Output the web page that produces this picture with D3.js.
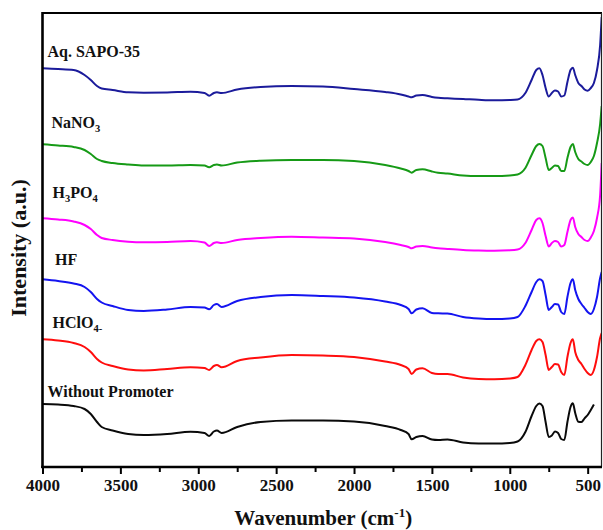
<!DOCTYPE html>
<html>
<head>
<meta charset="utf-8">
<script src="https://cdn.jsdelivr.net/npm/d3@7"></script>
<style>
  html, body { margin: 0; padding: 0; background: #fff; }
  svg text { font-family: "Liberation Serif", "Times New Roman", serif; font-weight: bold; fill: #111; }
</style>
</head>
<body>
<svg id="chart" width="603" height="530"></svg>
<script>
// ---- Data (intensity in arbitrary units) ----
const wavenumbers = [4000,3900,3800,3730,3690,3650,3620,3550,3450,3350,3200,3050,2960,2930,2900,2880,2850,2750,2600,2400,2200,2000,1800,1700,1650,1630,1600,1560,1500,1460,1400,1300,1200,1100,1000,950,900,860,830,810,790,770,750,730,710,690,670,650,630,610,595,580,560,540,520,500,480,460,440,420,410];

const aqSAPO = [398.7,398,397,392,387,381,378.5,377,374.7,374.3,374.5,375.3,374,371.3,374,374.7,374,377.5,380,381,380.5,378,375,372.5,370.5,369.7,371.5,372,370,369.2,368.7,368,367.2,366.7,367,367.5,374,387,397,398.7,392,379,370.5,374,376.5,375.5,370.5,371.5,385,397,399.3,392,384,381,377.5,376.3,379,384,397,422,450];

const naNO3 = [322.7,321.5,320,317,313,308,306,304,302.5,301.5,301.5,302,301.5,299.7,302,302.5,301.5,304.5,306.3,307,307,306,302,298.5,296,294.3,297,297.7,295.5,294.3,293.5,291.5,291,291,291.5,292.5,299,312,321,323,321,309,297,299,301.5,301,296,296,309,320,323,315,308,305.5,303,302,305,311,324,343,361];

const h3PO4 = [248.7,247.5,245.5,242,238,232,229,227,225.3,224.7,225,226,224.5,221,224,224.7,224,227,229,230.3,229.5,228.5,225,222,220,218.7,220.5,221,219.5,218.7,218,217,216.5,216.3,216.7,217.5,224,237,247,248.7,244,231,220.5,224,226,225,220.5,222,235,247,249.5,240,233,230,227,226,229.5,236,249,272,304];

const hF = [187.7,186,183.5,180,175,168,164.5,161,157,156,157.5,160,159.5,157.7,162,163,160,166,170,172,171,169.5,165.5,162,158,153.7,157.5,158.7,154,153.7,153.5,150,148.5,148,148.5,150,161,175,185,187.7,186,172,157,160,163,162.5,155,153,170,184,187.7,177,168,163,159,155,153,158,170,189,195];

const hClO4 = [127.7,126.5,124,120,115,108,104.5,101,97.5,96.5,98,99.7,99,97,101,102,99.7,106,109.5,112,111.5,110,105.5,102,98,93,97.5,98.7,94,93,93,89.5,88,87.7,88.5,90,102,117,126,127.7,125,112,97,100,103,102.5,95,92,110,124,127.7,115,107,103,98,94,92,97,110,129,134];

const withoutPromoter = [63,62.5,61,58,53,45,40,36.5,33,32,33,35.3,34,31,35.5,36.5,34,40,45,46.5,46.5,45.5,41,37,33,27.7,30,31,27.5,27,27.5,24.5,23.5,23.5,24,25.5,35,51,61,63.5,61,45,30,31.5,35.5,34,28,27,45,60,63.7,54,45.3,45,48.7,52,57,62.5,null,null,null];

const seriesNames = ["Aq. SAPO-35","NaNO3","H3PO4","HF","HClO4-","Without Promoter"];
const seriesValues = [aqSAPO, naNO3, h3PO4, hF, hClO4, withoutPromoter];
const seriesColors = ["#1b1b9b","#169a16","#ff00ff","#1414f0","#ff0d0d","#0a0a0a"];

const majorTicks = [4000,3500,3000,2500,2000,1500,1000,500];
const minorTicks = [3750,3250,2750,2250,1750,1250,750];
const xDomain = [4000, 408];
const yDomain = [0, 454];

// ---- Layout ----
const svg = d3.select("#chart");
const L = 42.5, R = 602, T = 13, B = 467;

const x = d3.scaleLinear().domain(xDomain).range([L, R]);
const y = d3.scaleLinear().domain(yDomain).range([B, T]);

// Curves
const line = d3.line()
  .defined(d => d[1] !== null)
  .x(d => x(d[0]))
  .y(d => y(d[1]))
  .curve(d3.curveMonotoneX);

svg.append("defs").append("clipPath").attr("id","clip")
  .append("rect").attr("x", L).attr("y", T).attr("width", R - L).attr("height", B - T);

const g = svg.append("g").attr("clip-path","url(#clip)");
seriesValues.forEach((vals, i) => {
  const pts = wavenumbers.map((w, k) => [w, vals[k]]);
  g.append("path")
    .datum(pts)
    .attr("d", line)
    .attr("fill","none")
    .attr("stroke", seriesColors[i])
    .attr("stroke-width", 2)
    .attr("stroke-linejoin","round");
});

// Frame
svg.append("line").attr("x1", L).attr("x2", R).attr("y1", T).attr("y2", T)
  .attr("stroke","#000").attr("stroke-width",2.2);
svg.append("line").attr("x1", R - 0.5).attr("x2", R - 0.5).attr("y1", T).attr("y2", B)
  .attr("stroke","#222").attr("stroke-width",1.2);
svg.append("line").attr("x1", L).attr("x2", L).attr("y1", T - 1).attr("y2", B + 1)
  .attr("stroke","#000").attr("stroke-width",2.6);

// Bottom axis
const xAxis = d3.axisBottom(x).tickValues(majorTicks).tickSize(7).tickPadding(4).tickFormat(d3.format("d"));
const ax = svg.append("g").attr("transform", `translate(0,${B})`).call(xAxis);
ax.select(".domain").remove();
ax.selectAll(".tick line").attr("stroke","#000").attr("stroke-width",2);
ax.selectAll(".tick text").attr("font-size", 17).attr("fill","#111")
  .attr("font-family","Liberation Serif").attr("font-weight","bold").attr("dy","0.78em");
const axMinor = d3.axisBottom(x).tickValues(minorTicks).tickSize(5).tickFormat("");
const am = svg.append("g").attr("transform", `translate(0,${B})`).call(axMinor);
am.select(".domain").remove();
am.selectAll(".tick line").attr("stroke","#000").attr("stroke-width",2);
svg.append("line").attr("x1", L - 1.3).attr("x2", R).attr("y1", B).attr("y2", B)
  .attr("stroke","#000").attr("stroke-width",2.6);

// Axis titles
const xt = svg.append("text").attr("x", (L + R) / 2 + 1).attr("y", 525)
  .attr("text-anchor","middle").attr("font-size", 21);
xt.append("tspan").text("Wavenumber (cm");
xt.append("tspan").text("-1").attr("font-size", 13).attr("dy", -8);
xt.append("tspan").text(")").attr("dy", 8);

svg.append("text").attr("transform", "translate(26,248) rotate(-90)")
  .attr("text-anchor","middle").attr("font-size", 22).text("Intensity (a.u.)");

// Series labels
function label(xp, yp, parts) {
  const t = svg.append("text").attr("x", xp).attr("y", yp).attr("font-size", 16);
  let shift = 0;
  parts.forEach(p => {
    const ts = t.append("tspan").text(p.t);
    if (p.sub) {
      ts.attr("font-size", 10.5).attr("dy", 4 - shift);
      shift = 4;
    } else {
      ts.attr("dy", -shift);
      shift = 0;
    }
  });
}
label(47.5, 57, [{t:"Aq. SAPO-35"}]);
label(51.5, 128, [{t:"NaNO"},{t:"3",sub:true}]);
label(52.5, 198, [{t:"H"},{t:"3",sub:true},{t:"PO"},{t:"4",sub:true}]);
label(55, 265, [{t:"HF"}]);
label(52.5, 328, [{t:"HClO"},{t:"4-",sub:true}]);
label(47.5, 396.5, [{t:"Without Promoter"}]);
</script>
</body>
</html>
